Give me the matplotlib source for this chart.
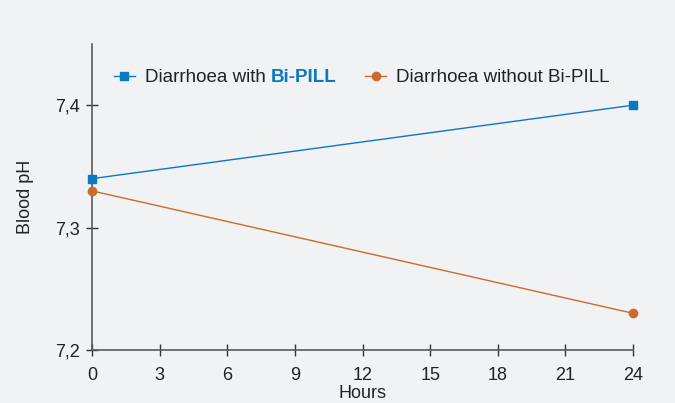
import matplotlib.pyplot as plt
from matplotlib.ticker import FuncFormatter

# data
hours = [0, 24]
ph_with = [7.34, 7.40]
ph_without = [7.33, 7.23]
x_ticks = [0, 3, 6, 9, 12, 15, 18, 21, 24]
y_ticks = [7.2, 7.3, 7.4]

bg = '#f1f2f4'
blue = '#0a78c3'
orange = '#cd6a2d'
axcol = '#5a5a5a'

plt.rcParams['font.family'] = ['Liberation Sans', 'DejaVu Sans']

fig = plt.figure(figsize=(6.75, 4.03), dpi=100, facecolor=bg)
ax = fig.add_axes([0.1363, 0.1315, 0.8015, 0.7593])
ax.set_facecolor(bg)

ax.plot(hours, ph_with, color=blue, lw=1, marker='s', ms=6, label='Diarrhoea with', clip_on=False, zorder=3)
ax.plot(hours, ph_without, color=orange, lw=1, marker='o', ms=6, label='Diarrhoea without Bi-PILL', clip_on=False, zorder=3)

ax.set_xlim(0, 24)
ax.set_ylim(7.2, 7.45)
ax.set_xticks(x_ticks)
ax.set_yticks(y_ticks)
ax.yaxis.set_major_formatter(FuncFormatter(lambda v, p: f'{v:.1f}'.replace('.', ',')))

for s in ['top', 'right']:
    ax.spines[s].set_visible(False)
for s in ['left', 'bottom']:
    ax.spines[s].set_color(axcol)
    ax.spines[s].set_linewidth(1.2)
ax.tick_params(direction='inout', length=8, width=1, color='#333333', labelsize=13, labelcolor='#222222')
ax.tick_params(axis='x', pad=8)
ax.tick_params(axis='y', pad=5)

ax.set_xlabel('Hours', fontsize=13, color='#222222', labelpad=1)
ax.set_ylabel('Blood pH', fontsize=13, color='#222222', labelpad=15)

leg = ax.legend(loc='upper left', bbox_to_anchor=(0.02, 0.955), ncol=2, frameon=False,
                fontsize=13.5, handlelength=1.1, handletextpad=0.53, columnspacing=5.33,
                labelcolor='#222222', borderaxespad=0.2)
fig.canvas.draw()
txt = leg.get_texts()[0]
ax.annotate('Bi-PILL', xy=(1, 0), xycoords=txt, xytext=(3.5, 0), textcoords='offset points',
            ha='left', va='bottom', fontsize=13.5, fontweight='bold', color=blue, zorder=10)

fig.savefig('out.png', dpi=100, facecolor=bg)
